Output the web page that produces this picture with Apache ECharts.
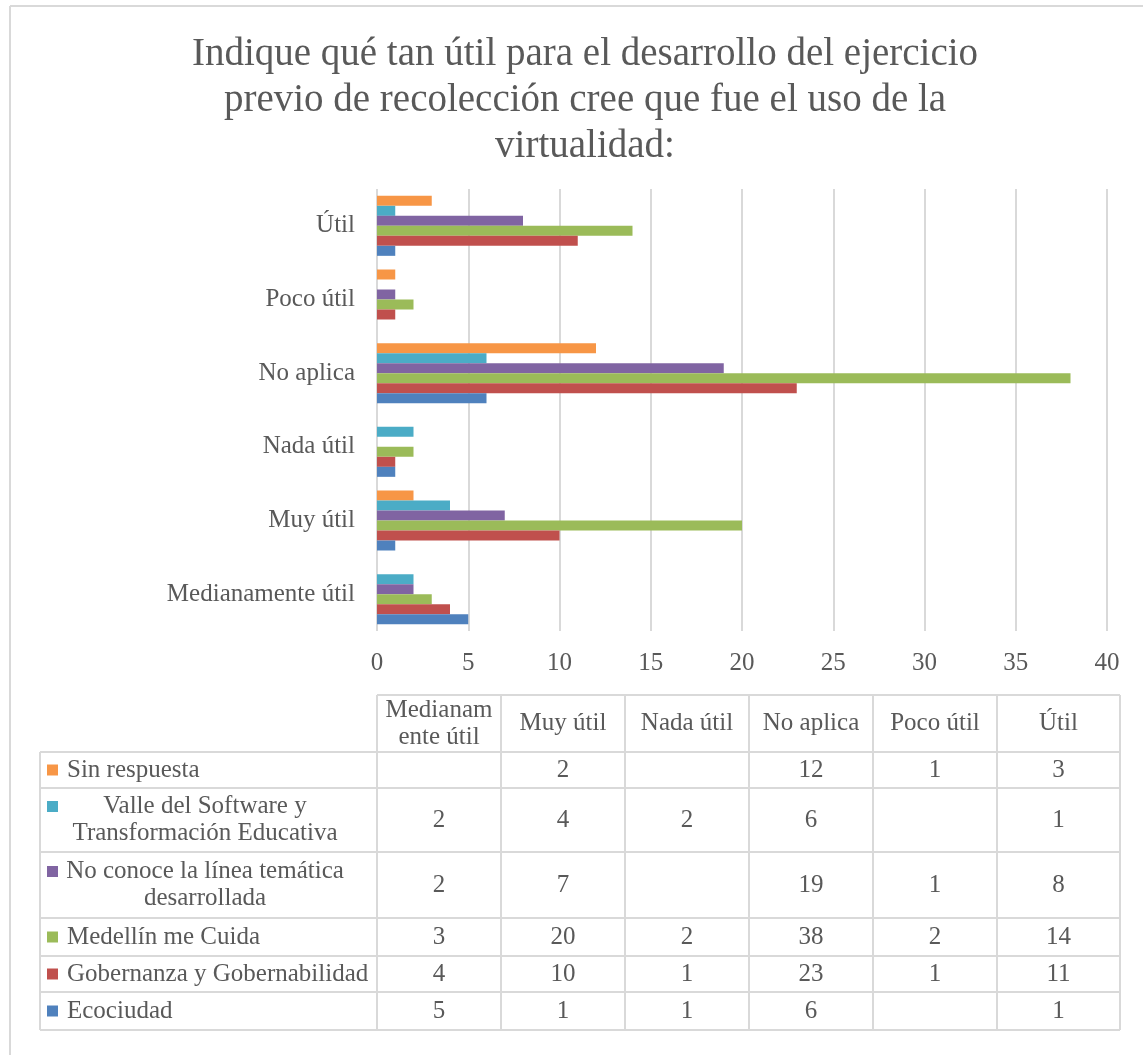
<!doctype html>
<html>
<head>
<meta charset="utf-8">
<title>Uso de la virtualidad</title>
<style>
  html, body { margin: 0; padding: 0; background: #fff; }
  #main { width: 1143px; height: 1055px; }
</style>
</head>
<body>
<div id="main"></div>
<script src="https://cdn.jsdelivr.net/npm/echarts@6/dist/echarts.min.js"></script>
<script>
// categories, bottom to top on the chart (left to right in the table)
var categories = ['Medianamente útil', 'Muy útil', 'Nada útil', 'No aplica', 'Poco útil', 'Útil'];
var headerLabels = ['Medianam\nente útil', 'Muy útil', 'Nada útil', 'No aplica', 'Poco útil', 'Útil'];

var ecociudad    = [5, 1, 1, 6, null, 1];
var gobernanza   = [4, 10, 1, 23, 1, 11];
var medellin     = [3, 20, 2, 38, 2, 14];
var noConoce     = [2, 7, null, 19, 1, 8];
var valle        = [2, 4, 2, 6, null, 1];
var sinRespuesta = [null, 2, null, 12, 1, 3];

// order: top row of the table first
var seriesNames = ['Sin respuesta', 'Valle del Software y Transformación Educativa',
  'No conoce la línea temática desarrollada', 'Medellín me Cuida', 'Gobernanza y Gobernabilidad', 'Ecociudad'];
var tableNames = ['Sin respuesta', 'Valle del Software y\nTransformación Educativa',
  'No conoce la línea temática\ndesarrollada', 'Medellín me Cuida', 'Gobernanza y Gobernabilidad', 'Ecociudad'];
var seriesValues = [sinRespuesta, valle, noConoce, medellin, gobernanza, ecociudad];

var xMax = 40;
var xStep = 5;

var colors = ['#f79646', '#4bacc6', '#8064a2', '#9bbb59', '#c0504d', '#4f81bd'];
var font = "'Liberation Serif', 'DejaVu Serif', serif";
var textColor = '#595959';
var lineColor = '#d9d9d9';

var chart = echarts.init(document.getElementById('main'));

// table layout
var colX = [377, 501, 625, 749, 873, 997, 1120];
var legendLeft = 40;
var headerTop = 695;
var rowY = [752, 788, 852, 918, 956, 992, 1030];

var graphics = [];
function hline(x1, x2, y) {
  graphics.push({ type: 'line', silent: true, shape: { x1: x1, y1: y, x2: x2, y2: y },
    style: { stroke: lineColor, lineWidth: 2 } });
}
function vline(x, y1, y2) {
  graphics.push({ type: 'line', silent: true, shape: { x1: x, y1: y1, x2: x, y2: y2 },
    style: { stroke: lineColor, lineWidth: 2 } });
}
function label(text, x, y, align) {
  graphics.push({ type: 'text', silent: true, x: x, y: y,
    style: { text: text, fill: textColor, font: '25px ' + font, align: align,
      verticalAlign: 'middle', lineHeight: 27 } });
}

// outer frame
hline(10, 1143, 6);
vline(10, 6, 1055);

// grid lines of the table
hline(colX[0], colX[6], headerTop);
rowY.forEach(function (y) { hline(legendLeft, colX[6], y); });
vline(legendLeft, rowY[0], rowY[6]);
colX.forEach(function (x) { vline(x, headerTop, rowY[6]); });

// header
headerLabels.forEach(function (h, i) {
  label(h, (colX[i] + colX[i + 1]) / 2, (headerTop + rowY[0]) / 2, 'center');
});

// rows
for (var r = 0; r < seriesNames.length; r++) {
  var cy = (rowY[r] + rowY[r + 1]) / 2;
  var name = tableNames[r];
  var multi = name.indexOf('\n') >= 0;
  var sqY = multi ? cy - 13.5 - 5.5 : cy - 5.5;
  graphics.push({ type: 'rect', silent: true, shape: { x: 47, y: sqY, width: 11, height: 11 },
    style: { fill: colors[r] } });
  if (multi) {
    label(name, 205, cy, 'center');
  } else {
    label(name, 67, cy, 'left');
  }
  seriesValues[r].forEach(function (v, i) {
    if (v !== null) label(String(v), (colX[i] + colX[i + 1]) / 2, cy, 'center');
  });
}

// ECharts stacks horizontal bar series top-down in series order
var series = seriesNames.map(function (n, i) {
  return {
    name: n,
    type: 'bar',
    data: seriesValues[i],
    barWidth: 10,
    barGap: '0%',
    itemStyle: { color: colors[i] },
    silent: true
  };
});

chart.setOption({
  animation: false,
  backgroundColor: '#fff',
  title: {
    text: 'Indique qué tan útil para el desarrollo del ejercicio\nprevio de recolección cree que fue el uso de la\nvirtualidad:',
    left: 580,
    top: 27,
    textAlign: 'center',
    textStyle: { fontFamily: font, fontSize: 39, fontWeight: 'normal', color: textColor, lineHeight: 46 }
  },
  grid: { left: 377, right: 36, top: 189, bottom: 424, containLabel: false },
  xAxis: {
    type: 'value',
    min: 0,
    max: xMax,
    interval: xStep,
    axisLine: { show: false },
    axisTick: { show: false },
    axisLabel: { fontFamily: font, fontSize: 25, color: textColor, margin: 20 },
    splitLine: { lineStyle: { color: lineColor, width: 2 } }
  },
  yAxis: {
    type: 'category',
    data: categories,
    axisLine: { show: false },
    axisTick: { show: false },
    axisLabel: { fontFamily: font, fontSize: 25, color: textColor, margin: 22 }
  },
  series: series,
  graphic: graphics
});
</script>
</body>
</html>
